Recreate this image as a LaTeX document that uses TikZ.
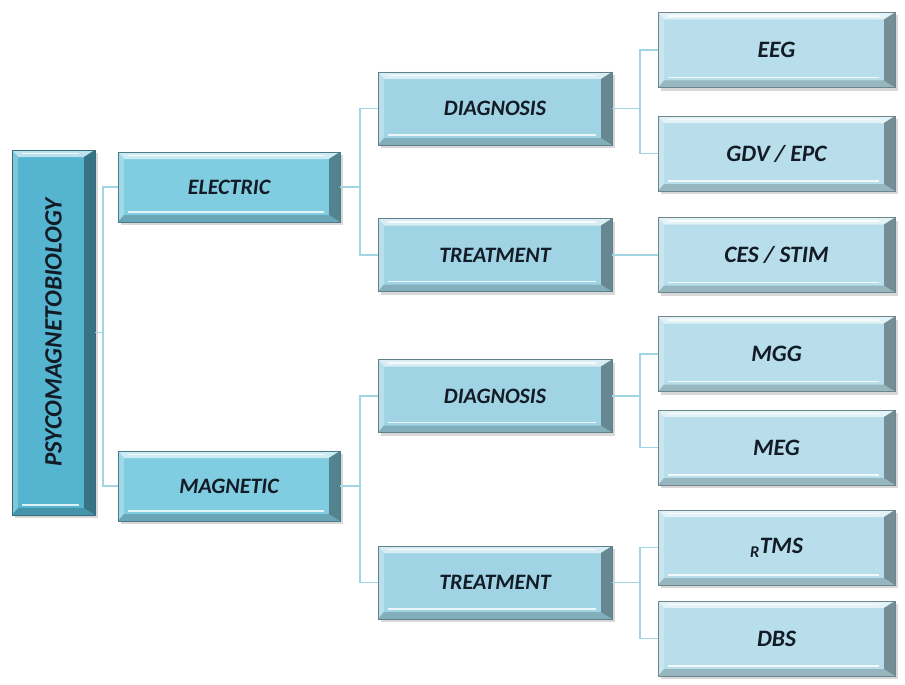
\documentclass[tikz,border=0pt]{standalone}
\usepackage{fontspec}
\setmainfont{Carlito}
\usepackage{tikz}
\usetikzlibrary{shadows}
\definecolor{rootblue}{HTML}{55B5D0}
\definecolor{lvlone}{HTML}{80CCE0}
\definecolor{lvltwo}{HTML}{A0D4E4}
\definecolor{lvlthree}{HTML}{B7DEEA}
\definecolor{inktext}{HTML}{121B26}
\definecolor{wirecol}{HTML}{A3D4E4}
\newcommand{\ppb}{path picture bounding box}
\tikzstyle{wire}=[draw=wirecol, line width=1.8pt]
\tikzset{
  bevel/.style={draw=#1!60!black, line width=0.4pt, fill=#1, inner sep=0pt,
    text=inktext, font=\bfseries\itshape\fontsize{22}{26}\selectfont,
    drop shadow={shadow xshift=3pt, shadow yshift=-3pt, opacity=0.3},
    path picture={
      % top face
      \fill[#1!40!white] (\ppb.north west) -- (\ppb.north east)
        -- ([shift={(-11pt,-7pt)}]\ppb.north east) -- ([shift={(6pt,-7pt)}]\ppb.north west) -- cycle;
      % left face
      \fill[#1!75!white] (\ppb.north west) -- ([shift={(6pt,-7pt)}]\ppb.north west)
        -- ([shift={(6pt,7pt)}]\ppb.south west) -- (\ppb.south west) -- cycle;
      % bottom face
      \fill[#1!82!black] (\ppb.south west) -- ([shift={(6pt,7pt)}]\ppb.south west)
        -- ([shift={(-11pt,7pt)}]\ppb.south east) -- (\ppb.south east) -- cycle;
      % right face
      \fill[#1!64!black] (\ppb.north east) -- ([shift={(-11pt,-7pt)}]\ppb.north east)
        -- ([shift={(-11pt,7pt)}]\ppb.south east) -- (\ppb.south east) -- cycle;
      % glints
      \draw[white, line width=1.6pt, opacity=.8] ([shift={(10pt,-3.5pt)}]\ppb.north west) -- ([shift={(-16pt,-3.5pt)}]\ppb.north east);
      \draw[white, line width=1.6pt, opacity=.8] ([shift={(10pt,10pt)}]\ppb.south west) -- ([shift={(-16pt,10pt)}]\ppb.south east);
    }},
  rootbox/.style={bevel=rootblue, minimum width=83pt, minimum height=365pt,
    font=\bfseries\itshape\fontsize{25}{30}\selectfont},
  groupbox/.style={bevel=lvlone, minimum width=222pt, minimum height=70pt},
  taskbox/.style={bevel=lvltwo, minimum width=234pt, minimum height=73pt},
  methodbox/.style={bevel=lvlthree, minimum width=237pt, minimum height=75pt,
    font=\bfseries\itshape\fontsize{23.5}{28}\selectfont}
}

\begin{document}
\begin{tikzpicture}[x=1pt,y=-1pt]
  \useasboundingbox[fill=white] (0,0) rectangle (905,685);

  \node[rootbox] (root) at (53.5,332.5) {\rotatebox{90}{PSYCOMAGNETOBIOLOGY}};

  \node[groupbox] (elec) at (229,187) {ELECTRIC};
  \node[groupbox] (magn) at (229,486) {MAGNETIC};

  \node[taskbox] (ediag)  at (495,108.5) {DIAGNOSIS};
  \node[taskbox] (etreat) at (495,255)   {TREATMENT};
  \node[taskbox] (mdiag)  at (495,396)   {DIAGNOSIS};
  \node[taskbox] (mtreat) at (495,582.5) {TREATMENT};

  \node[methodbox] (eeg)  at (776.5,50)    {EEG};
  \node[methodbox] (gdv)  at (776.5,153.5) {GDV / EPC};
  \node[methodbox] (ces)  at (776.5,255)   {CES / STIM};
  \node[methodbox] (mgg)  at (776.5,354)   {MGG};
  \node[methodbox] (meg)  at (776.5,447.5) {MEG};
  \node[methodbox] (rtms) at (776.5,547.5) {\textsubscript{R}TMS};
  \node[methodbox] (dbs)  at (776.5,638.5) {DBS};

  % root to the two groups
  \coordinate (rootbus) at (103,332.5);
  \draw[wire] (root.east) -- (rootbus) |- (elec.west);
  \draw[wire] (rootbus) |- (magn.west);

  % groups to diagnosis / treatment
  \draw[wire] (elec.east) -- ++(20,0) coordinate (ebus) |- (ediag.west);
  \draw[wire] (ebus) |- (etreat.west);
  \draw[wire] (magn.east) -- ++(20,0) coordinate (mbus) |- (mdiag.west);
  \draw[wire] (mbus) |- (mtreat.west);

  % tasks to methods
  \draw[wire] (ediag.east) -- ++(28,0) coordinate (dbus1) |- (eeg.west);
  \draw[wire] (dbus1) |- (gdv.west);
  \draw[wire] (etreat.east) -- (ces.west);
  \draw[wire] (mdiag.east) -- ++(28,0) coordinate (dbus2) |- (mgg.west);
  \draw[wire] (dbus2) |- (meg.west);
  \draw[wire] (mtreat.east) -- ++(28,0) coordinate (tbus) |- (rtms.west);
  \draw[wire] (tbus) |- (dbs.west);
\end{tikzpicture}
\end{document}
